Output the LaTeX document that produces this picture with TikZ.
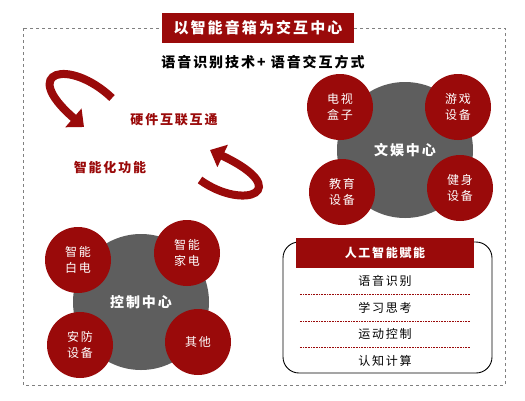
\documentclass[tikz,border=0pt]{standalone}
\usepackage{fontspec}
\newfontfamily\cjk{Noto Sans CJK SC}[LetterSpace=14]
\usetikzlibrary{positioning}
\usetikzlibrary{arrows.meta}
\definecolor{darkred}{HTML}{9A0A0A}
\definecolor{hubgray}{HTML}{5E5E5E}

\begin{document}
\begin{tikzpicture}[x=1pt,y=-1pt,
every node/.style={font=\cjk},
hub/.style={circle,fill=hubgray,minimum size=136pt,text=white,font=\cjk\bfseries\fontsize{14}{16}\selectfont},
ball/.style={circle,fill=darkred,minimum size=66pt,text=white,align=center,font=\cjk\fontsize{12}{16}\selectfont},
ribbon/.style={draw=darkred,line width=8pt,-{Triangle[length=14pt,width=24pt]}},
item/.style={minimum width=170pt,minimum height=26pt,font=\cjk\fontsize{12}{14}\selectfont}]

\useasboundingbox (0,0) rectangle (525,400);

% outer frame + title
\draw[gray,dashed,line width=1pt] (23,28) rectangle (505,385);
\node[fill=darkred,text=white,minimum width=192pt,minimum height=30pt,font=\cjk\bfseries\fontsize{15}{18}\selectfont] (title) at (258,28) {以智能音箱为交互中心};
\node[font=\cjk\bfseries\fontsize{14}{16}\selectfont] (sub) at (263,62) {语音识别技术+ 语音交互方式};

% curled arrows
\coordinate (curl a) at (112,98);
\coordinate (curl a end) at (84,127);
\draw[ribbon] (curl a) .. controls (70,58) and (18,70) .. (curl a end);
\coordinate (curl b) at (200,180);
\coordinate (curl b end) at (210,150);
\draw[ribbon] (curl b) .. controls (245,212) and (295,190) .. (curl b end);

\node[text=darkred,font=\cjk\bfseries\fontsize{13}{15}\selectfont] (link) at (174,120) {硬件互联互通};
\node[text=darkred,font=\cjk\bfseries\fontsize{13}{15}\selectfont] (smart) at (110,168) {智能化功能};

% entertainment hub
\node[hub] (ent) at (405,150) {文娱中心};
\node[ball] (tv) at (340,107) {电视\\盒子};
\node[ball] (game) at (458,107) {游戏\\设备};
\node[ball] (edu) at (342,192) {教育\\设备};
\node[ball] (gym) at (460,188) {健身\\设备};

% control hub
\node[hub] (ctrl) at (141,302) {控制中心};
\node[ball] (white) at (78,260) {智能\\白电};
\node[ball] (home) at (187,253) {智能\\家电};
\node[ball] (safe) at (80,345) {安防\\设备};
\node[ball] (other) at (198,342) {其他};

% AI box
\draw[rounded corners=16pt,line width=0.9pt] (283,242) rectangle (492,373);
\node[fill=darkred,text=white,minimum width=178pt,minimum height=30pt,font=\cjk\bfseries\fontsize{12}{14}\selectfont] (ai) at (385,253) {人工智能赋能};
\node[item,below=0pt of ai] (i1) {语音识别};
\node[item,below=0pt of i1] (i2) {学习思考};
\node[item,below=0pt of i2] (i3) {运动控制};
\node[item,below=0pt of i3] (i4) {认知计算};
\foreach \n in {i1,i2,i3}
  \draw[darkred,line width=0.7pt,dash pattern=on 0.7pt off 0.9pt] (\n.south west) -- (\n.south east);

\end{tikzpicture}
\end{document}
